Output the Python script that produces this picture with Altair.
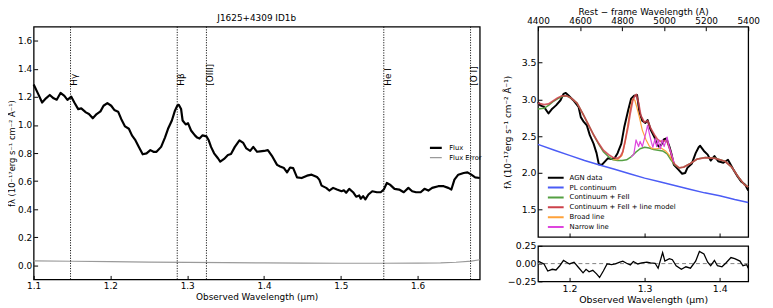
import altair as alt
import pandas as pd

FONT = "DejaVu Sans"

# ---------------- left panel data ----------------
flux_wl = [1.100, 1.106, 1.111, 1.116, 1.121, 1.126, 1.130, 1.135, 1.140, 1.144,
           1.149, 1.153, 1.158, 1.162, 1.168, 1.172, 1.177, 1.182, 1.187, 1.191,
           1.196, 1.201, 1.205, 1.210, 1.214, 1.219, 1.224, 1.228, 1.232, 1.237,
           1.242, 1.247, 1.252, 1.256, 1.260, 1.266, 1.271, 1.275, 1.280, 1.284,
           1.287, 1.289, 1.292, 1.294, 1.298, 1.301, 1.305, 1.310, 1.313, 1.316,
           1.320, 1.325, 1.328, 1.331, 1.335, 1.340, 1.343, 1.348, 1.353, 1.357,
           1.362, 1.368, 1.373, 1.377, 1.382, 1.386, 1.391, 1.395, 1.400, 1.405,
           1.411, 1.417, 1.421, 1.426, 1.430, 1.434, 1.438, 1.443, 1.449, 1.456,
           1.462, 1.469, 1.472, 1.475, 1.481, 1.485, 1.490, 1.495, 1.501, 1.504,
           1.507, 1.511, 1.516, 1.520, 1.524, 1.526, 1.529, 1.532, 1.536, 1.541,
           1.547, 1.552, 1.556, 1.560, 1.564, 1.570, 1.576, 1.582, 1.588, 1.593,
           1.598, 1.604, 1.609, 1.614, 1.619, 1.627, 1.634, 1.640, 1.644, 1.648,
           1.653, 1.660, 1.665, 1.670, 1.675, 1.681]
flux_f = [1.289, 1.220, 1.160, 1.190, 1.214, 1.190, 1.180, 1.228, 1.207, 1.179,
          1.202, 1.160, 1.113, 1.118, 1.090, 1.078, 1.048, 1.078, 1.097, 1.137,
          1.156, 1.137, 1.107, 1.095, 1.043, 0.990, 0.973, 0.926, 0.896, 0.844,
          0.791, 0.798, 0.821, 0.809, 0.809, 0.844, 0.910, 0.973, 1.032, 1.102,
          1.137, 1.144, 1.114, 1.032, 1.004, 1.013, 0.961, 0.926, 0.910, 0.903,
          0.926, 0.919, 0.891, 0.844, 0.798, 0.763, 0.739, 0.758, 0.786, 0.793,
          0.844, 0.891, 0.872, 0.833, 0.816, 0.844, 0.809, 0.812, 0.815, 0.821,
          0.774, 0.716, 0.704, 0.693, 0.662, 0.697, 0.693, 0.627, 0.622, 0.639,
          0.646, 0.630, 0.611, 0.568, 0.552, 0.533, 0.552, 0.540, 0.528, 0.535,
          0.517, 0.545, 0.521, 0.489, 0.498, 0.475, 0.493, 0.470, 0.505, 0.528,
          0.521, 0.521, 0.540, 0.587, 0.575, 0.545, 0.540, 0.521, 0.552, 0.528,
          0.521, 0.521, 0.545, 0.533, 0.552, 0.564, 0.564, 0.552, 0.540, 0.611,
          0.646, 0.658, 0.662, 0.646, 0.627, 0.622]
err_wl = [1.10, 1.15, 1.20, 1.25, 1.30, 1.35, 1.40, 1.45, 1.50, 1.55, 1.60, 1.63, 1.65, 1.67, 1.681]
err_f = [0.032, 0.029, 0.026, 0.023, 0.021, 0.019, 0.017, 0.016, 0.015, 0.015, 0.016, 0.018, 0.022, 0.030, 0.040]
line_names = ["Hγ", "Hβ", "[OIII]", "He I", "[O I]"]
line_wl = [1.148, 1.287, 1.325, 1.556, 1.669]
line_label_f = [1.28, 1.28, 1.28, 1.28, 1.28]
left_series = ["Flux", "Flux Error"]
left_colors = ["black", "#9a9a9a"]
left_widths = [2.2, 1.2]
left_xticks = [1.1, 1.2, 1.3, 1.4, 1.5, 1.6]
left_yticks = [0.0, 0.2, 0.4, 0.6, 0.8, 1.0, 1.2, 1.4, 1.6]

# ---------------- right panel data ----------------
agn_wl = [1.158, 1.161, 1.166, 1.172, 1.177, 1.182, 1.188, 1.192, 1.195, 1.199,
          1.205, 1.212, 1.215, 1.219, 1.223, 1.227, 1.232, 1.236, 1.239, 1.243,
          1.247, 1.251, 1.256, 1.260, 1.264, 1.269, 1.273, 1.278, 1.282, 1.286,
          1.290, 1.293, 1.297, 1.301, 1.304, 1.308, 1.313, 1.316, 1.319, 1.322,
          1.326, 1.329, 1.333, 1.336, 1.339, 1.345, 1.350, 1.354, 1.357, 1.363,
          1.368, 1.372, 1.374, 1.379, 1.384, 1.388, 1.393, 1.398, 1.405, 1.411,
          1.418, 1.424, 1.429, 1.434, 1.438]
agn_f = [2.964, 2.920, 2.900, 2.810, 2.875, 2.920, 2.990, 3.077, 3.090, 3.050,
         2.990, 2.900, 2.760, 2.695, 2.650, 2.515, 2.400, 2.270, 2.120, 2.110,
         2.156, 2.200, 2.190, 2.200, 2.270, 2.400, 2.630, 2.850, 3.010, 3.050,
         3.060, 2.830, 2.710, 2.680, 2.720, 2.590, 2.490, 2.400, 2.360, 2.380,
         2.460, 2.470, 2.360, 2.250, 2.110, 2.045, 1.990, 2.000, 2.070, 2.130,
         2.270, 2.350, 2.370, 2.300, 2.250, 2.170, 2.230, 2.160, 2.140, 2.180,
         2.050, 1.950, 1.880, 1.840, 1.760]
pl_wl = [1.158, 1.18, 1.20, 1.22, 1.24, 1.26, 1.28, 1.30, 1.32, 1.34, 1.36, 1.38, 1.40, 1.42, 1.438]
pl_f = [2.39, 2.31, 2.24, 2.17, 2.11, 2.05, 1.99, 1.93, 1.88, 1.83, 1.78, 1.73, 1.69, 1.64, 1.60]
fe_wl = [1.158, 1.166, 1.172, 1.178, 1.184, 1.190, 1.196, 1.202, 1.210, 1.218,
         1.225, 1.232, 1.239, 1.245, 1.252, 1.258, 1.264, 1.270, 1.276, 1.282,
         1.288, 1.294, 1.300, 1.306, 1.312, 1.318, 1.324, 1.330, 1.335, 1.340,
         1.346, 1.352, 1.361, 1.370, 1.381, 1.394, 1.407, 1.416, 1.4246, 1.433, 1.438]
fe_f = [2.87, 2.88, 2.92, 2.97, 3.01, 3.04, 3.05, 3.02, 2.95, 2.80,
        2.66, 2.52, 2.39, 2.29, 2.22, 2.18, 2.17, 2.17, 2.18, 2.22,
        2.28, 2.33, 2.35, 2.34, 2.32, 2.31, 2.30, 2.26, 2.18, 2.11,
        2.07, 2.08, 2.13, 2.19, 2.21, 2.20, 2.16, 2.08, 1.95, 1.84, 1.81]
model_wl = [1.158, 1.166, 1.172, 1.178, 1.184, 1.190, 1.196, 1.202, 1.210, 1.218,
            1.225, 1.232, 1.239, 1.245, 1.252, 1.258, 1.264, 1.268, 1.271, 1.274,
            1.278, 1.281, 1.284, 1.287, 1.289, 1.292, 1.295, 1.2996, 1.304, 1.308,
            1.313, 1.317, 1.321, 1.326, 1.330, 1.3346, 1.339, 1.3457, 1.352, 1.361,
            1.370, 1.381, 1.394, 1.407, 1.416, 1.4246, 1.433, 1.438]
model_f = [2.95, 2.93, 2.94, 2.98, 3.02, 3.05, 3.05, 3.02, 2.95, 2.80,
           2.66, 2.52, 2.40, 2.31, 2.25, 2.21, 2.20, 2.23, 2.29, 2.43,
           2.63, 2.82, 2.98, 3.05, 3.07, 2.95, 2.78, 2.69, 2.71, 2.61,
           2.52, 2.46, 2.43, 2.44, 2.43, 2.29, 2.13, 2.07, 2.08, 2.13,
           2.19, 2.21, 2.20, 2.16, 2.08, 1.95, 1.84, 1.81]
broad_wl = [1.258, 1.264, 1.270, 1.274, 1.278, 1.281, 1.284, 1.287, 1.290, 1.293,
            1.297, 1.302, 1.306, 1.310, 1.316, 1.322, 1.328, 1.333, 1.338]
broad_f = [2.18, 2.18, 2.24, 2.42, 2.68, 2.88, 3.01, 2.99, 2.88, 2.76,
           2.58, 2.45, 2.37, 2.33, 2.33, 2.34, 2.30, 2.24, 2.15]
narrow_wl = [1.282, 1.2855, 1.2886, 1.292, 1.294, 1.297, 1.302, 1.304, 1.306, 1.309,
             1.311, 1.314, 1.316, 1.318, 1.321, 1.3237, 1.326, 1.330, 1.3325, 1.336, 1.339]
narrow_f = [2.22, 2.25, 2.45, 2.36, 2.43, 2.36, 2.56, 2.65, 2.55, 2.42,
            2.35, 2.47, 2.36, 2.45, 2.33, 2.45, 2.36, 2.49, 2.36, 2.25, 2.15]
resid_wl = [1.158, 1.166, 1.171, 1.177, 1.182, 1.187, 1.192, 1.196, 1.200, 1.206,
            1.212, 1.218, 1.222, 1.226, 1.231, 1.236, 1.240, 1.245, 1.250, 1.256,
            1.261, 1.267, 1.271, 1.276, 1.281, 1.285, 1.291, 1.296, 1.303, 1.308,
            1.314, 1.318, 1.324, 1.327, 1.333, 1.337, 1.342, 1.349, 1.355, 1.361,
            1.368, 1.373, 1.379, 1.384, 1.388, 1.393, 1.397, 1.403, 1.408, 1.415,
            1.420, 1.427, 1.431, 1.436, 1.438]
resid_f = [0.035, -0.005, -0.105, -0.080, -0.090, -0.030, 0.045, 0.020, -0.005, 0.020,
           -0.055, -0.130, -0.080, -0.115, -0.095, -0.145, -0.195, -0.105, -0.005, -0.015,
           -0.005, 0.020, 0.035, 0.005, -0.020, 0.030, -0.005, 0.010, 0.020, 0.010,
           0.005, -0.065, 0.155, 0.035, 0.070, 0.055, -0.030, -0.080, -0.045, -0.065,
           0.035, 0.170, 0.135, 0.020, -0.030, 0.045, -0.030, -0.045, 0.005, 0.085,
           0.070, 0.035, -0.030, -0.015, -0.065]
zero_level = [0.0]
series_names = ["AGN data", "PL continuum", "Continuum + FeII",
                "Continuum + FeII + line model", "Broad line", "Narrow line"]
series_colors = ["black", "#4b5cf5", "#55a043", "#cc424b", "#ffa23a", "#de45de"]
rest_ticks = [4400, 4600, 4800, 5000, 5200, 5400]
right_xticks = [1.2, 1.3, 1.4]
right_yticks = [1.5, 2.0, 2.5, 3.0, 3.5]
resid_yticks = [-0.25, 0.0, 0.25]

YTITLE = "fλ (10⁻¹⁷erg s⁻¹ cm⁻² Å⁻¹)"

# ---------------- left chart ----------------
left_df = pd.concat([
    pd.DataFrame({"wl": flux_wl, "f": flux_f, "series": "Flux"}),
    pd.DataFrame({"wl": err_wl, "f": err_f, "series": "Flux Error"}),
])
lines_df = pd.DataFrame({"wl": line_wl, "f": line_label_f, "name": line_names})

xL = alt.X("wl:Q", scale=alt.Scale(domain=[1.1, 1.681], nice=False, zero=False),
           axis=alt.Axis(values=left_xticks, format=".1f", title="Observed Wavelength (μm)",
                         offset=-4, tickSize=4, labelPadding=2, titlePadding=2,
                         labelFontSize=9, titleFontSize=9, labelOverlap=False))
yL = alt.Y("f:Q", scale=alt.Scale(domain=[-0.1, 1.7], nice=False, zero=False),
           axis=alt.Axis(values=left_yticks, format=".1f", title=YTITLE, tickCount=9,
                         offset=-4, tickSize=4, labelPadding=2, titlePadding=1,
                         labelFontSize=9, titleFontSize=8.5, labelOverlap=False,
                         labelSeparation=0))
leg_left = alt.Legend(title=None, orient="none", legendX=400, legendY=118, padding=0,
                      symbolType="stroke", symbolSize=144, clipHeight=9.4, rowPadding=0,
                      labelFontSize=6.8, labelOffset=6)
flux_lines = alt.Chart(left_df).mark_line(strokeJoin="round").encode(
    x=xL, y=yL,
    color=alt.Color("series:N", scale=alt.Scale(domain=left_series, range=left_colors), legend=leg_left),
    strokeWidth=alt.StrokeWidth("series:N", scale=alt.Scale(domain=left_series, range=left_widths), legend=leg_left),
)
vlines = alt.Chart(lines_df).mark_rule(color="black", strokeWidth=0.9, strokeDash=[1.2, 1.4]).encode(x=xL)
vlabels = alt.Chart(lines_df).mark_text(angle=270, align="left", baseline="top", fontSize=9,
                                        font=FONT, color="black").encode(x=xL, y=yL, text="name:N")
left = alt.layer(flux_lines, vlines, vlabels).properties(
    width=452, height=256,
    title=alt.TitleParams("J1625+4309 ID1b", fontSize=9, offset=3))

# ---------------- right main chart ----------------
xR = alt.X("wl:Q", scale=alt.Scale(domain=[1.158, 1.438], nice=False, zero=False),
           axis=alt.Axis(values=right_xticks, labels=False, title=None, offset=-4, tickSize=4))
yR = alt.Y("f:Q", scale=alt.Scale(domain=[1.13, 3.99], nice=False, zero=False),
           axis=alt.Axis(values=right_yticks, format=".1f", title=YTITLE,
                         offset=-4, tickSize=4, labelPadding=2, titlePadding=9,
                         labelFontSize=9.5, titleFontSize=9, labelOverlap=False))
cscale = alt.Scale(domain=series_names, range=series_colors)
leg_right = alt.Legend(title=None, orient="none", legendX=9, legendY=148, padding=0,
                       symbolType="stroke", symbolSize=256, symbolStrokeWidth=2,
                       clipHeight=10, rowPadding=0, labelFontSize=7, labelOffset=5)

def series_layer(wl, f, name, width, opacity=1.0):
    df = pd.DataFrame({"wl": wl, "f": f, "series": name})
    return alt.Chart(df).mark_line(strokeWidth=width, opacity=opacity, strokeJoin="round").encode(
        x=xR, y=yR, color=alt.Color("series:N", scale=cscale, legend=leg_right))

spectra = alt.layer(
    series_layer(agn_wl, agn_f, "AGN data", 2.0),
    series_layer(pl_wl, pl_f, "PL continuum", 1.5),
    series_layer(fe_wl, fe_f, "Continuum + FeII", 1.5),
    series_layer(broad_wl, broad_f, "Broad line", 1.2),
    series_layer(model_wl, model_f, "Continuum + FeII + line model", 1.8, 0.85),
    series_layer(narrow_wl, narrow_f, "Narrow line", 1.2),
)
rest_axis = alt.Chart(pd.DataFrame({"rest": rest_ticks})).mark_point(opacity=0).encode(
    x=alt.X("rest:Q", scale=alt.Scale(domain=[4400, 5400], nice=False, zero=False),
            axis=alt.Axis(orient="top", values=rest_ticks, format="d",
                          title="Rest − frame Wavelength (Å)", offset=-4, tickSize=4,
                          labelPadding=1, titlePadding=0, labelFontSize=9, titleFontSize=9,
                          labelOverlap=False)))
right_main = alt.layer(spectra, rest_axis).resolve_scale(x="independent").properties(width=213, height=213)

# ---------------- residual chart ----------------
xRes = alt.X("wl:Q", scale=alt.Scale(domain=[1.158, 1.438], nice=False, zero=False),
             axis=alt.Axis(values=right_xticks, format=".1f", title="Observed Wavelength (μm)",
                           offset=-4, tickSize=4, labelPadding=2, titlePadding=2,
                           labelFontSize=9.5, titleFontSize=9.5, labelOverlap=False))
yRes = alt.Y("f:Q", scale=alt.Scale(domain=[-0.25, 0.25], nice=False, zero=False),
             axis=alt.Axis(values=resid_yticks, format=".2f", title=None,
                           offset=-4, tickSize=4, labelPadding=2, labelFontSize=9.5,
                           labelOverlap=False))
zero_rule = alt.Chart(pd.DataFrame({"f": zero_level})).mark_rule(
    color="#808080", strokeWidth=1, strokeDash=[4, 3]).encode(y=yRes)
resid_line = alt.Chart(pd.DataFrame({"wl": resid_wl, "f": resid_f})).mark_line(
    color="black", strokeWidth=1.3).encode(x=xRes, y=yRes)
resid = alt.layer(zero_rule, resid_line).properties(width=213, height=36)

right = alt.vconcat(right_main, resid, spacing=9, bounds="flush")

chart = alt.hconcat(left, right, spacing=59, bounds="flush").resolve_scale(
    color="independent", strokeWidth="independent"
).resolve_legend(color="independent", strokeWidth="independent").properties(
    padding={"left": -1, "top": -3, "right": 4, "bottom": 0}
).configure_view(stroke="black", strokeWidth=1.3).configure_axis(
    labelFont=FONT, titleFont=FONT, labelColor="black", titleColor="black",
    tickColor="black", tickWidth=1, titleFontWeight="normal", grid=False, domain=False,
    labelFlush=False, labelOverlap=False
).configure_title(font=FONT, fontWeight="normal", color="black").configure_legend(
    labelFont=FONT, labelColor="black")

chart.save("out.html", embed_options={"renderer": "svg", "actions": False})
